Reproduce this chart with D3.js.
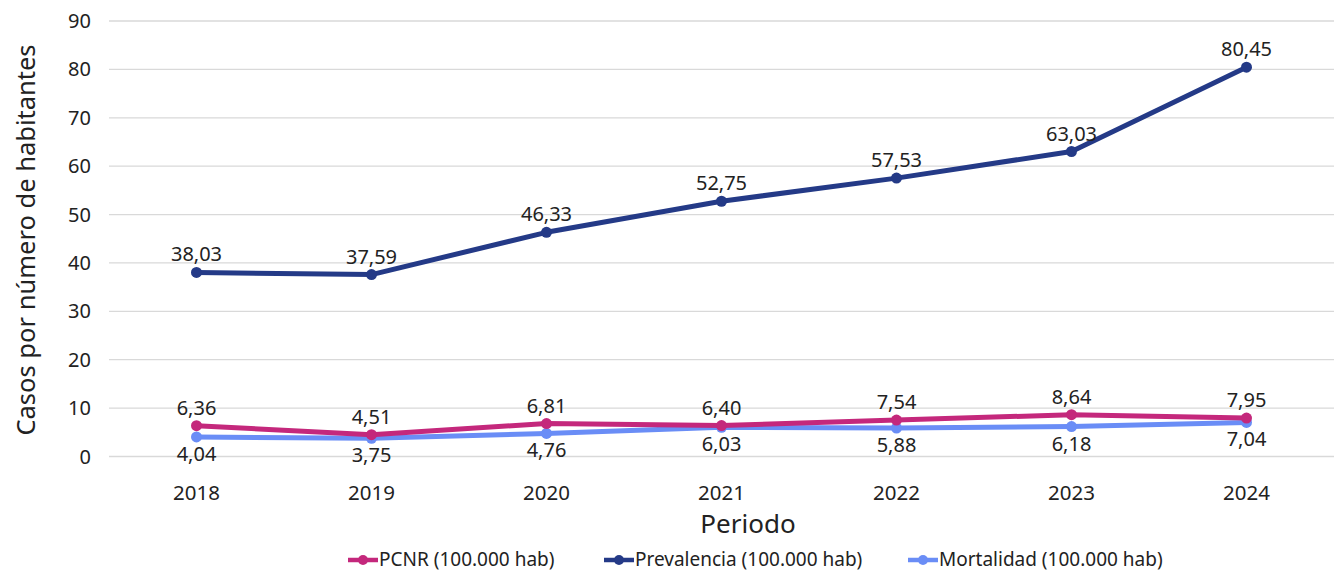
<!DOCTYPE html>
<html><head><meta charset="utf-8">
<script src="https://cdn.jsdelivr.net/npm/d3@7"></script>
<style>
body{margin:0;background:#fff;}
text{font-family:"Noto Sans",Lato,sans-serif;fill:#222;}
</style></head>
<body><svg id="c" width="1334" height="573"></svg>
<script>
const years = ["2018","2019","2020","2021","2022","2023","2024"];
const pcnr = [6.36,4.51,6.81,6.40,7.54,8.64,7.95];
const prevalencia = [38.03,37.59,46.33,52.75,57.53,63.03,80.45];
const mortalidad = [4.04,3.75,4.76,6.03,5.88,6.18,7.04];
const yTicks = [0,10,20,30,40,50,60,70,80,90];
const seriesNames = ["PCNR (100.000 hab)","Prevalencia (100.000 hab)","Mortalidad (100.000 hab)"];

const colors = ["#C4287C","#243A87","#6A8DF6"];
const svg = d3.select("#c");
const x = d3.scaleBand().domain(years).range([109,1334]);
const y = d3.scaleLinear().domain([0,90]).range([456.5,21]);
const fmt = v => v.toFixed(2).replace(".",",");

// grid
svg.append("g").selectAll("line").data(yTicks).join("line")
  .attr("x1",109).attr("x2",1334).attr("y1",d=>y(d)).attr("y2",d=>y(d))
  .attr("stroke","#d9d9d9").attr("stroke-width",1.3);
// y tick labels
svg.append("g").selectAll("text").data(yTicks).join("text")
  .attr("x",91).attr("y",d=>y(d)).attr("dy","0.35em").attr("text-anchor","end")
  .style("font-size","20px").text(d=>d);
// x tick labels
svg.append("g").selectAll("text").data(years).join("text")
  .attr("x",d=>x(d)+x.bandwidth()/2).attr("y",493).attr("dy","0.35em").attr("text-anchor","middle")
  .style("font-size","20.5px").text(d=>d);
// axis titles
svg.append("text").attr("x",748).attr("y",524).attr("dy","0.35em").attr("text-anchor","middle")
  .style("font-size","26px").text("Periodo");
svg.append("text").attr("transform","translate(26,240) rotate(-90)").attr("dy","0.35em").attr("text-anchor","middle")
  .style("font-size","25.5px").text("Casos por número de habitantes");

const cx = d => x(d)+x.bandwidth()/2;
const all = [pcnr, prevalencia, mortalidad];
const drawOrder = [1,2,0];
drawOrder.forEach(i=>{
  const data = years.map((yr,j)=>({yr, v: all[i][j]}));
  const g = svg.append("g");
  g.append("path").datum(data)
    .attr("d", d3.line().x(d=>cx(d.yr)).y(d=>y(d.v)))
    .attr("fill","none").attr("stroke",colors[i]).attr("stroke-width",5).attr("stroke-linejoin","round");
  g.selectAll("circle").data(data).join("circle")
    .attr("cx",d=>cx(d.yr)).attr("cy",d=>y(d.v)).attr("r",5.5).attr("fill",colors[i]);
});
// labels
[0,1,2].forEach(i=>{
  const data = years.map((yr,j)=>({yr, v: all[i][j]}));
  const below = i===2;
  svg.append("g").selectAll("text").data(data).join("text")
    .attr("x",d=>cx(d.yr)).attr("y",d=>y(d.v)+(below?17:-11))
    .attr("text-anchor","middle").style("font-size","20px")
    .attr("dy", below ? "0.35em" : "0")
    .text(d=>fmt(d.v));
});

// legend
const legX = [348, 604, 908];
seriesNames.forEach((n,i)=>{
  const g = svg.append("g").attr("transform",`translate(${legX[i]},560)`);
  g.append("line").attr("x1",0).attr("x2",30).attr("y1",0).attr("y2",0).attr("stroke",colors[i]).attr("stroke-width",4.5);
  g.append("circle").attr("cx",15).attr("cy",0).attr("r",5).attr("fill",colors[i]);
  g.append("text").attr("x",31).attr("y",0).attr("dy","0.33em").style("font-size","19px").text(n);
});
</script></body></html>
